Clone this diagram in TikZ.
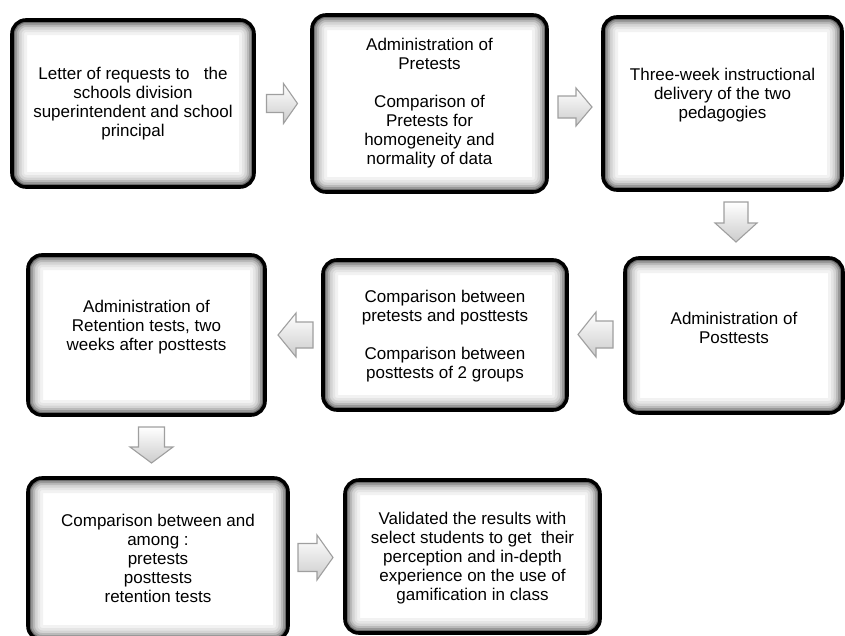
\documentclass[tikz,border=0pt]{standalone}
\usepackage{fontspec}
\setmainfont{Liberation Sans}
\usetikzlibrary{calc}
\tikzset{
  flowbox/.style={rectangle, rounded corners=14pt, draw=black, line width=3.6pt, fill=white, inner sep=0pt,
    path picture={
      \foreach \w/\c in {30/5,24/10,19/17,14/27,10/40,6/58}{
        \draw[line width=\w pt, black!\c, rounded corners=14pt]
          (path picture bounding box.south west) rectangle (path picture bounding box.north east);}
    }},
  boxtext/.style={align=center, inner sep=0pt, font=\fontsize{17}{19}\selectfont},
  blockarrow/.style={draw=gray!75, line width=1.1pt, line join=miter, shading=axis, top color=white, bottom color=gray!40}
}
% #1 center x, #2 center y, #3 rotation, #4 length, #5 head width, #6 shaft width, #7 head length
\newcommand\blockarr[7]{%
  \path[blockarrow, shift={(#1,#2)}, rotate=#3]
    (-#4/2,-#6/2) -- (#4/2-#7,-#6/2) -- (#4/2-#7,-#5/2) -- (#4/2,0)
    -- (#4/2-#7,#5/2) -- (#4/2-#7,#6/2) -- (-#4/2,#6/2) -- cycle;}
\begin{document}
\begin{tikzpicture}[x=1pt,y=-1pt]
\useasboundingbox (0,0) rectangle (845,635);
% boxes
\node[flowbox, minimum width=242pt, minimum height=167pt] (b1) at (133,103.5) {};
\node[flowbox, minimum width=235pt, minimum height=177pt] (b2) at (429.5,103.5) {};
\node[flowbox, minimum width=239pt, minimum height=173pt] (b3) at (722.5,103.5) {};
\node[flowbox, minimum width=218pt, minimum height=155pt] (b4) at (734,335.5) {};
\node[flowbox, minimum width=244pt, minimum height=150pt] (b5) at (445,335) {};
\node[flowbox, minimum width=237pt, minimum height=160pt] (b6) at (146.5,335) {};
\node[flowbox, minimum width=260pt, minimum height=162pt] (b7) at (158,559) {};
\node[flowbox, minimum width=255pt, minimum height=153pt] (b8) at (472.5,556.5) {};
% texts
\node[boxtext] (t1) at (b1.center) {Letter of requests to\ \ \ the\\schools division\\superintendent and school\\principal};
\node[boxtext] (t2) at (b2.center) {Administration of\\Pretests\\[19pt]Comparison of\\Pretests for\\homogeneity and\\normality of data};
\node[boxtext] (t3) at ([yshift=8pt]b3.center) {Three-week instructional\\delivery of the two\\pedagogies};
\node[boxtext] (t4) at ([yshift=8pt]b4.center) {Administration of\\Posttests};
\node[boxtext] (t5) at ([yshift=-1pt]b5.center) {Comparison between\\pretests and posttests\\[19pt]Comparison between\\posttests of 2 groups};
\node[boxtext] (t6) at ([yshift=8pt]b6.center) {Administration of\\Retention tests, two\\weeks after posttests};
\node[boxtext] (t7) at ([yshift=1pt]b7.center) {Comparison between and\\among :\\pretests\\posttests\\retention tests};
\node[boxtext] (t8) at ([yshift=-2pt]b8.center) {Validated the results with\\select students to get\ \ their\\perception and in-depth\\experience on the use of\\gamification in class};
% block arrows
\blockarr{282}{103.5}{0}{31}{40}{18}{14}
\blockarr{575}{107}{0}{34}{38}{22}{16}
\blockarr{736}{222}{-90}{40}{42}{24}{19}
\blockarr{595.5}{334.5}{180}{35}{45}{27}{18}
\blockarr{295.5}{335}{180}{35}{44}{26}{18}
\blockarr{151.5}{445}{-90}{36}{43}{26}{16}
\blockarr{315.5}{557.5}{0}{35}{45}{28}{16}
\end{tikzpicture}
\end{document}
